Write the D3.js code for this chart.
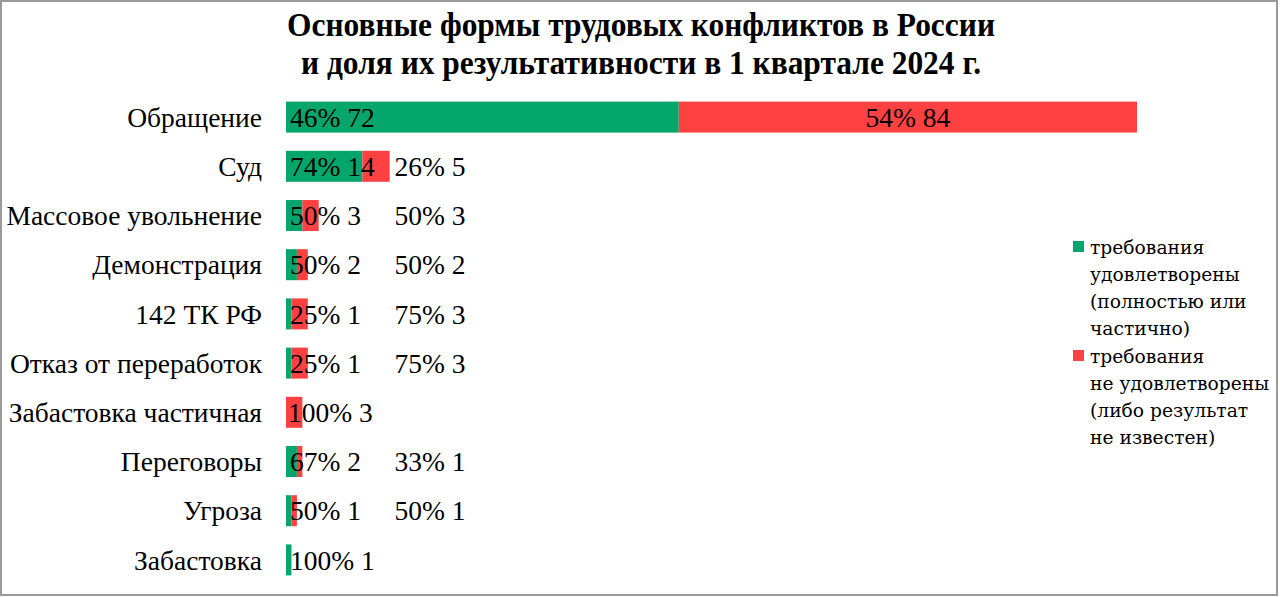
<!DOCTYPE html>
<html><head><meta charset="utf-8">
<script src="https://cdn.jsdelivr.net/npm/d3@7"></script>
<style>html,body{margin:0;padding:0;background:#fff;}svg{display:block;}</style>
</head><body>
<svg id="c" width="1280" height="597"></svg>
<script>
const categories = ["Обращение","Суд","Массовое увольнение","Демонстрация","142 ТК РФ","Отказ от переработок","Забастовка частичная","Переговоры","Угроза","Забастовка"];
const satisfied = [72,14,3,2,1,1,0,2,1,1];
const unsatisfied = [84,5,3,2,3,3,3,1,1,0];
const satisfiedPct = [46,74,50,50,25,25,null,67,50,100];
const unsatisfiedPct = [54,26,50,50,75,75,100,33,50,null];
const titleLines = ["Основные формы трудовых конфликтов в России","и доля их результативности в 1 квартале 2024 г."];
const legendItems = [
  {lines:["требования","удовлетворены","(полностью или","частично)"], key:"sat"},
  {lines:["требования","не удовлетворены","(либо результат","не известен)"], key:"unsat"}
];
const colors = {sat:"#05A66B", unsat:"#FF4141"};

const svg = d3.select("#c");
svg.append("rect").attr("x",1).attr("y",1).attr("width",1276).attr("height",594)
  .attr("fill","#fff").attr("stroke","#9a9a9a").attr("stroke-width",2);

const totals = categories.map((c,i)=>satisfied[i]+unsatisfied[i]);
const x = d3.scaleLinear().domain([0, d3.max(totals)]).range([286,1137]);
const y = d3.scaleBand().domain(categories).range([92.5,584.5]).paddingInner(0.37).paddingOuter(0.185);

// title
const tw = [708, 680];
svg.selectAll("text.title").data(titleLines).join("text").attr("class","title")
  .attr("x",641).attr("y",(d,i)=>36+i*38).attr("text-anchor","middle")
  .attr("font-family","Liberation Serif").attr("font-weight","bold").attr("font-size",33)
  .attr("textLength",(d,i)=>tw[i]).attr("lengthAdjust","spacingAndGlyphs")
  .attr("fill","#000").text(d=>d);

// category labels
svg.selectAll("text.cat").data(categories).join("text").attr("class","cat")
  .attr("x",262).attr("y",d=>y(d)+y.bandwidth()/2).attr("dy","0.35em")
  .attr("text-anchor","end").attr("font-family","Liberation Serif").attr("font-size",27.5)
  .attr("fill","#000").text(d=>d);

// bars
const g = svg.append("g");
g.selectAll("rect.sat").data(categories).join("rect").attr("class","sat")
  .attr("x",x(0)).attr("y",d=>y(d)).attr("height",y.bandwidth())
  .attr("width",(d,i)=>x(satisfied[i])-x(0)).attr("fill",colors.sat);
g.selectAll("rect.unsat").data(categories).join("rect").attr("class","unsat")
  .attr("x",(d,i)=>x(satisfied[i])).attr("y",d=>y(d)).attr("height",y.bandwidth())
  .attr("width",(d,i)=>x(satisfied[i]+unsatisfied[i])-x(satisfied[i])).attr("fill",colors.unsat);

// labels
const lab = svg.append("g").attr("font-family","Liberation Serif").attr("font-size",27.5).attr("fill","#000");
categories.forEach((c,i)=>{
  const cy = y(c)+y.bandwidth()/2;
  if (satisfiedPct[i]!==null) {
    lab.append("text").attr("x",x(0)+4).attr("y",cy).attr("dy","0.35em")
      .text(satisfiedPct[i]+"% "+satisfied[i]);
  }
  if (unsatisfiedPct[i]!==null) {
    const t = unsatisfiedPct[i]+"% "+unsatisfied[i];
    if (satisfiedPct[i]===null) {
      lab.append("text").attr("x",x(0)+2).attr("y",cy).attr("dy","0.35em").text(t);
    } else {
      const center = (x(satisfied[i])+x(satisfied[i]+unsatisfied[i]))/2;
      lab.append("text").attr("x",Math.max(center, x(0)+144)).attr("y",cy).attr("dy","0.35em")
        .attr("text-anchor","middle").text(t);
    }
  }
});

// legend
const lg = svg.append("g");
let ly = 247;
legendItems.forEach(item=>{
  lg.append("rect").attr("x",1073).attr("y",ly-6).attr("width",11).attr("height",11).attr("fill",colors[item.key]);
  item.lines.forEach((ln,j)=>{
    lg.append("text").attr("x",1090).attr("y",ly+j*27).attr("dy","0.35em")
      .attr("font-family","DejaVu Serif").attr("font-size",18.7).attr("fill","#000").text(ln);
  });
  ly += item.lines.length*27+1;
});
</script>
</body></html>
